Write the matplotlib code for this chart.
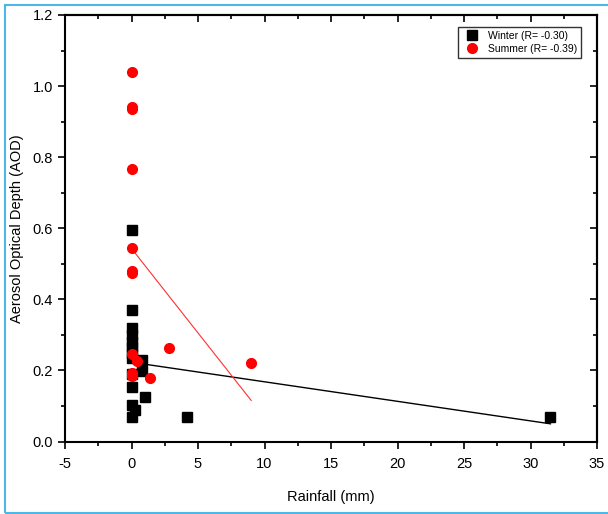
import matplotlib
matplotlib.use('Agg')
import matplotlib.pyplot as plt
import numpy as np
from matplotlib.patches import Rectangle
from matplotlib.ticker import MultipleLocator

plt.rcParams['font.family'] = ['Liberation Sans', 'DejaVu Sans']
plt.rcParams['font.size'] = 10
plt.rcParams['axes.unicode_minus'] = False

# Winter: rainfall (mm) vs AOD
winter_rain = [0.0, 0.0, 0.0, 0.0, 0.0, 0.0, 0.0, 0.0, 0.8, 0.8, 0.0, 0.0,
               1.05, 0.0, 0.3, 0.0, 4.2, 31.5]
winter_aod = [0.595, 0.37, 0.32, 0.30, 0.28, 0.265, 0.25, 0.235, 0.228, 0.197,
              0.19, 0.152, 0.125, 0.104, 0.089, 0.07, 0.07, 0.07]
# Summer: rainfall (mm) vs AOD
summer_rain = [0.0, 0.0, 0.0, 0.0, 0.0, 0.0, 0.0, 0.0, 0.4, 0.0, 0.0, 1.4, 2.8, 9.0]
summer_aod = [1.04, 0.942, 0.936, 0.766, 0.545, 0.48, 0.473, 0.245, 0.226, 0.192,
              0.185, 0.179, 0.264, 0.221]

# linear fits (intercept, slope)
winter_fit = (0.223, -0.0055)
summer_fit = (0.543, -0.0475)

fig = plt.figure(figsize=(6.08, 5.14), dpi=100)
ax = fig.add_axes([65/608, 1 - 441.5/514, (597 - 65)/608, (441.5 - 15)/514])

ax.plot(winter_rain, winter_aod, 's', color='black', markersize=6.5,
        label='Winter (R= -0.30)', zorder=3)
ax.plot(summer_rain, summer_aod, 'o', color='#ff0000', markersize=7,
        label='Summer (R= -0.39)', zorder=4)

xw = np.array([min(winter_rain), max(winter_rain)])
ax.plot(xw, winter_fit[0] + winter_fit[1]*xw, '-', color='black', linewidth=1, zorder=2)
xs = np.array([min(summer_rain), max(summer_rain)])
ax.plot(xs, summer_fit[0] + summer_fit[1]*xs, '-', color='#ff3030', linewidth=0.8, zorder=2)

ax.set_xlim(-5, 35)
ax.set_ylim(0, 1.2)
ax.xaxis.set_major_locator(MultipleLocator(5))
ax.xaxis.set_minor_locator(MultipleLocator(2.5))
ax.yaxis.set_major_locator(MultipleLocator(0.2))
ax.yaxis.set_minor_locator(MultipleLocator(0.1))
ax.yaxis.set_major_formatter(plt.FuncFormatter(lambda v, p: '%.1f' % v))

for s in ax.spines.values():
    s.set_linewidth(1.5)
ax.tick_params(which='both', direction='out', width=1.2, top=False, right=False,
               labelsize=10.5)
ax.tick_params(axis='x', pad=6)
ax.tick_params(which='major', length=5)
ax.tick_params(which='minor', length=3)

# inward ticks on top and right
ax2 = ax.secondary_xaxis('top')
ax2.xaxis.set_major_locator(MultipleLocator(5))
ax2.xaxis.set_minor_locator(MultipleLocator(2.5))
ax2.tick_params(which='both', direction='in', labeltop=False, width=1.2)
ax2.tick_params(which='major', length=5)
ax2.tick_params(which='minor', length=3)
ax3 = ax.secondary_yaxis('right')
ax3.yaxis.set_major_locator(MultipleLocator(0.2))
ax3.yaxis.set_minor_locator(MultipleLocator(0.1))
ax3.tick_params(which='both', direction='in', labelright=False, width=1.2)
ax3.tick_params(which='major', length=5)
ax3.tick_params(which='minor', length=3)
for a in (ax2, ax3):
    for s in a.spines.values():
        s.set_linewidth(1.5)

ax.set_xlabel('Rainfall (mm)', labelpad=14, fontsize=10.5)
ax.set_ylabel('Aerosol Optical Depth (AOD)', labelpad=6, fontsize=10.5)

leg = ax.legend(loc='upper right', fontsize=7.5, frameon=True, fancybox=False,
                edgecolor='black', borderpad=0.4, handletextpad=0.5,
                bbox_to_anchor=(0.98, 0.985), labelspacing=0.3)
leg.get_frame().set_linewidth(1)

fig.add_artist(Rectangle((5/608, 1 - 512.5/514), 1.0, (512.5 - 5)/514,
                         transform=fig.transFigure, fill=False,
                         edgecolor='#4db8e8', linewidth=1.5))

fig.savefig('out.png', dpi=100)
